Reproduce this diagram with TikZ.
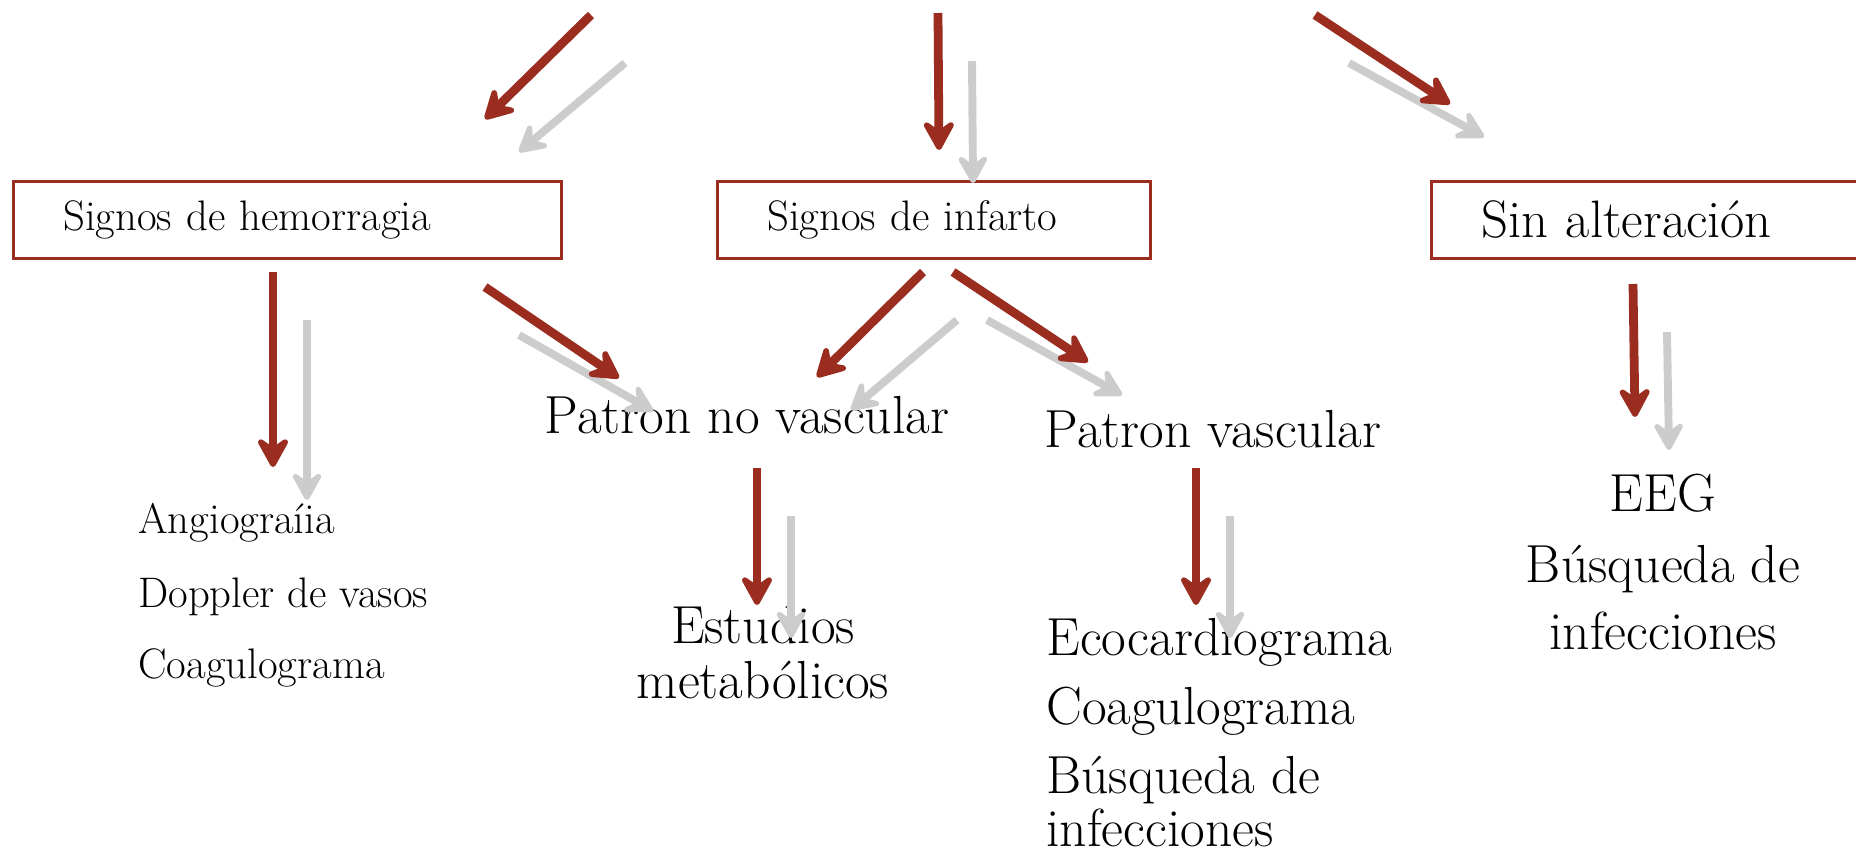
\documentclass[tikz,border=0pt]{standalone}
\usepackage{fontspec}
\usepackage{xcolor}
\usepackage{tikz}
\usetikzlibrary{calc}
\usetikzlibrary{arrows.meta}

\definecolor{darkred}{RGB}{155,45,32}

% red arrow with its grey shadow
\newcommand{\twinarrow}[2]{%
  \draw[shadow arrow] ($(#1)+(34,48)$) -- ($(#2)+(34,33)$);
  \draw[red arrow] (#1) -- (#2);}

\begin{document}
\begin{tikzpicture}[x=0.02cm,y=-0.02cm,
    box/.style={draw=darkred,line width=1.5pt,rectangle,anchor=north west,minimum height=1.54cm,inner xsep=1cm,align=left},
    small/.style={font=\fontsize{24.3}{28}\selectfont,inner sep=0pt,anchor=base west},
    big/.style={font=\fontsize{30.5}{36}\selectfont,inner sep=0pt,anchor=base},
    red arrow/.style={draw=darkred,line width=5pt,-{Stealth[length=21pt,width=23pt,inset=8pt,round]}},
    shadow arrow/.style={draw=black!20,line width=4.5pt,-{Stealth[length=20pt,width=22pt,inset=8pt,round]}}]

 \useasboundingbox (0,0) rectangle (1856,855);
 \clip (0,0) rectangle (1856,855);

 \node[box,text width=8.96cm,font=\fontsize{24.3}{28}\selectfont] (hem) at (12,180) {Signos de hemorragia};
 \node[box,text width=6.66cm,font=\fontsize{24.3}{28}\selectfont] (inf) at (716,180) {Signos de infarto};
 \node[box,text width=7cm,font=\fontsize{30}{36}\selectfont] (sin) at (1430,180) {Sin alteración};

 \node[big] (novasc) at (747,433) {Patron no vascular};
 \node[big] (vasc) at (1213,447) {Patron vascular};

 \node[small] (angio) at (138,533) {Angiograíia};
 \node[small] (doppler) at (138,607) {Doppler de vasos};
 \node[small] (coag1) at (138,678) {Coagulograma};

 \node[big] (estud) at (763,643) {Estudios};
 \node[big] (metab) at (763,698) {metabólicos};

 \node[big,anchor=base west] (eco) at (1046,655) {Ecocardiograma};
 \node[big,anchor=base west] (coag2) at (1046,724) {Coagulograma};
 \node[big,anchor=base west] (busq2) at (1046,793) {Búsqueda de};
 \node[big,anchor=base west] (infec2) at (1046,846) {infecciones};

 \node[big] (eeg) at (1663,511) {EEG};
 \node[big] (busq3) at (1663,582) {Búsqueda de};
 \node[big] (infec3) at (1663,649) {infecciones};

 % arrow ends
 \coordinate (s1) at (591,15);   \coordinate (e1) at (485,119);
 \coordinate (s2) at (938,13);   \coordinate (e2) at (939,150);
 \coordinate (s3) at (1315,15);  \coordinate (e3) at (1450,104);
 \coordinate (s4) at (273,272);  \coordinate (e4) at (273,467);
 \coordinate (s5) at (485,287);  \coordinate (e5) at (619,378);
 \coordinate (s6) at (923,272);  \coordinate (e6) at (817,377);
 \coordinate (s7) at (953,272);  \coordinate (e7) at (1088,362);
 \coordinate (s8) at (757,468);  \coordinate (e8) at (757,605);
 \coordinate (s9) at (1196,468); \coordinate (e9) at (1196,605);
 \coordinate (s10) at (1633,284); \coordinate (e10) at (1635,417);

 \twinarrow{s1}{e1}
 \twinarrow{s2}{e2}
 \twinarrow{s3}{e3}
 \twinarrow{s4}{e4}
 \twinarrow{s5}{e5}
 \twinarrow{s6}{e6}
 \twinarrow{s7}{e7}
 \twinarrow{s8}{e8}
 \twinarrow{s9}{e9}
 \twinarrow{s10}{e10}

\end{tikzpicture}
\end{document}
